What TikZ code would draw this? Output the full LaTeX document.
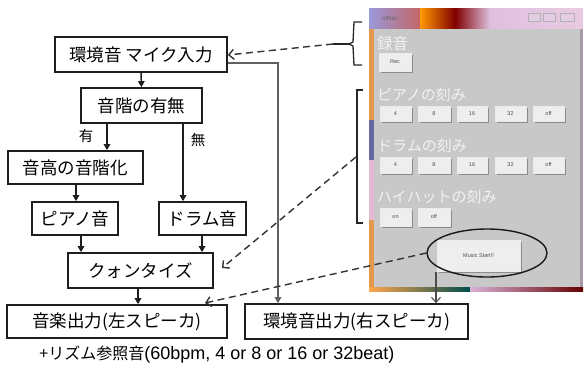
\documentclass[tikz,border=0pt]{standalone}
\usepackage{fontspec}
\setmainfont{Noto Sans CJK JP}
\newfontfamily\latinf{Liberation Sans}
\usetikzlibrary{arrows.meta,shapes.geometric}
\definecolor{wingray}{HTML}{C8C8C8}
\definecolor{btn}{HTML}{EEEEEE}
\definecolor{lbl}{HTML}{F2F2F2}
\definecolor{linec}{HTML}{1E1E1E}
\begin{document}
\begin{tikzpicture}[x=1pt,y=-1pt,
  box/.style={draw=linec, line width=1.7pt, fill=white, inner sep=0pt, font=\fontsize{17.5}{19}\selectfont},
  arr/.style={draw=linec, line width=1.5pt, -{Triangle[length=6pt,width=6.5pt]}},
  darr/.style={draw=black!80, line width=1.4pt, dash pattern=on 7pt off 4.5pt, -{Straight Barb[length=5pt,width=10pt]}},
  winlbl/.style={anchor=west, text=lbl, inner sep=0pt, font=\fontsize{15}{17}\selectfont},
  wbtn/.style={fill=btn, draw=white!92!black, line width=0.4pt, inner sep=0pt, font=\latinf\fontsize{5.5}{6}\selectfont, text=black!70},
  shadow/.style={fill=black!45},
  brk/.style={draw=black!85, line width=1.3pt}
]
\useasboundingbox (0,0) rectangle (586,368);
% ---------------- flowchart -----------------
\node[box, minimum width=172pt, minimum height=35pt] (mic) at (141,54.5) {環境音 マイク入力};
\node[box, minimum width=121pt, minimum height=35pt] (ukai) at (141.5,105.5) {音階の有無};
\node[box, minimum width=135pt, minimum height=33pt] (koukai) at (75.5,167.5) {音高の音階化};
\node[box, minimum width=86pt, minimum height=33pt] (piano) at (75,218.5) {ピアノ音};
\node[box, minimum width=87pt, minimum height=33pt] (drum) at (202.5,218.5) {ドラム音};
\node[box, minimum width=145pt, minimum height=35pt] (quant) at (140.5,270.5) {クォンタイズ};
\node[box, minimum width=220pt, minimum height=33pt] (lout) at (117,321.5) {音楽出力(左スピーカ)};
\node[box, minimum width=223pt, minimum height=35pt] (rout) at (356.5,321.5) {環境音出力(右スピーカ)};
\node[font=\fontsize{14.5}{16}\selectfont, inner sep=0pt] (yes) at (86,136) {有};
\node[font=\fontsize{14.5}{16}\selectfont, inner sep=0pt] (no) at (198,140) {無};
\node[font=\fontsize{16}{18}\selectfont, inner sep=0pt] (note) at (217,355) {+リズム参照音{\latinf\fontsize{18}{18}\selectfont(60bpm, 4 or 8 or 16 or 32beat)}};

\coordinate (kx) at (107,0);
\coordinate (nx) at (183,0);
\coordinate (kpx) at (76,0);
\coordinate (px) at (81,0);
\coordinate (dx) at (202,0);
\coordinate (qx) at (138,0);
\coordinate (ry) at (0,63);
\coordinate (rx) at (278,0);

\draw[arr] (mic.south) -- (ukai.north);
\draw[arr] (ukai.south -| kx) -- (koukai.north -| kx);
\draw[arr] (ukai.south -| nx) -- (drum.north -| nx);
\draw[arr] (koukai.south -| kpx) -- (piano.north -| kpx);
\draw[arr] (piano.south -| px) -- (quant.north -| px);
\draw[arr] (drum.south -| dx) -- (quant.north -| dx);
\draw[arr] (quant.south -| qx) -- (lout.north -| qx);
\draw[arr, draw=black!62, line width=2.3pt] (mic.east |- ry) -- (rx |- ry) -- (rout.north -| rx);

% ---------------- application window -----------------
\shade[left color=black!35!blue!40, right color=red!60!black!60] (369,8) rectangle (420,29);
\shade[left color=orange!80!yellow, right color=red!50!black] (420,8) rectangle (455,29);
\shade[left color=red!50!black, right color=violet!25] (455,8) rectangle (490,29);
\shade[left color=violet!25, right color=pink!40!violet!30] (490,8) rectangle (583,29);
\fill[orange!50!brown!80] (369,29) rectangle (374,120);
\fill[blue!40!black!60] (369,120) rectangle (374,160);
\fill[pink!60!violet!50] (369,160) rectangle (374,220);
\fill[orange!50!brown!80] (369,220) rectangle (374,291);
\fill[violet!30!black!40] (580,29) rectangle (583,291);
\shade[left color=orange!70, right color=teal!60!black] (369,287) rectangle (470,291);
\shade[left color=violet!30, right color=red!40!black] (470,287) rectangle (583,291);
\fill[wingray] (374,29) rectangle (580,287);
\node[inner sep=0pt, font=\latinf\fontsize{6}{7}\selectfont, text=black!60, anchor=west] (title) at (382,18) {ofRec};
\fill[white!80!violet, draw=black!30, line width=0.3pt] (528,13) rectangle (540,21);
\fill[white!80!violet, draw=black!30, line width=0.3pt] (543,13) rectangle (555,21);
\fill[white!80!violet, draw=black!30, line width=0.3pt] (560,13) rectangle (574,21);

\node[winlbl, font=\fontsize{15.5}{17}\selectfont] (lrec) at (377,44) {録音};
\node[winlbl] (lpiano) at (377,95) {ピアノの刻み};
\node[winlbl] (ldrum) at (377,146) {ドラムの刻み};
\node[winlbl] (lhat) at (377,197) {ハイハットの刻み};

% buttons
\newcommand{\wbutton}[6]{%
  \fill[shadow] (#1+1.5,#2+1.5) rectangle (#3+1.5,#4+1.5);
  \node[wbtn, minimum width=#3-#1, minimum height=#4-#2] (#5) at ({(#1+#3)/2},{(#2+#4)/2}) {#6};}
\wbutton{379}{53}{411}{71}{brec}{Rec}
\wbutton{380}{106}{411}{121}{bp4}{4}
\wbutton{418}{106}{450}{121}{bp8}{8}
\wbutton{457}{106}{487}{121}{bp16}{16}
\wbutton{495}{106}{526}{121}{bp32}{32}
\wbutton{533}{106}{564}{121}{bpoff}{off}
\wbutton{380}{157}{411}{173}{bd4}{4}
\wbutton{418}{157}{450}{173}{bd8}{8}
\wbutton{457}{157}{487}{173}{bd16}{16}
\wbutton{495}{157}{526}{173}{bd32}{32}
\wbutton{533}{157}{564}{173}{bdoff}{off}
\wbutton{380}{208}{411}{226}{bon}{on}
\wbutton{418}{208}{450}{226}{boff}{off}
\wbutton{437}{240}{520}{271}{bstart}{Music Start!!}

\node[draw=black!90, line width=1.4pt, ellipse, minimum width=120pt, minimum height=48pt, inner sep=0pt] (ell) at (487,253) {};

% brackets
\coordinate (b1t) at (362,22);
\coordinate (b1b) at (362,65);
\coordinate (b1m) at (333,44);
\draw[brk] (b1t) -- (354,22) -- (353,42) -- (349,44) -- (353,46) -- (354,65) -- (b1b);
\draw[brk] (349,44) -- (b1m);
\coordinate (b2t) at (363,90);
\coordinate (b2b) at (363,223);
\coordinate (b2m) at (356,157);
\draw[brk] (b2t) -- (357,90) -- (357,223) -- (b2b);

% dashed connectors
\draw[darr] (b1m) -- (mic.east |- 0,55);
\coordinate (q1) at (222,268);
\draw[darr] (b2m) -- (q1);
\coordinate (q2) at (205,303);
\draw[darr] (ell.west) -- (q2);
\coordinate (s1) at (436,272);
\draw[draw=black!70, line width=1.1pt, -{Straight Barb[length=5pt,width=9pt]}] (s1) -- (rout.north -| s1);
\end{tikzpicture}
\end{document}
